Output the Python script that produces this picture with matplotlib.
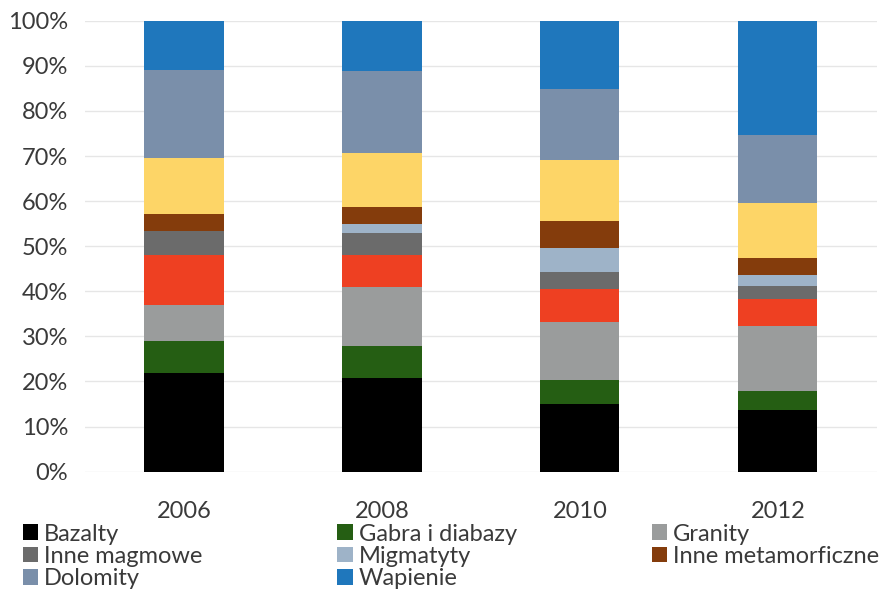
import numpy as np
from matplotlib import pyplot as plt
from matplotlib.patches import Patch

plt.rcParams['font.family'] = ['Lato', 'DejaVu Sans']

years = ['2006', '2008', '2010', '2012']

# udzialy procentowe (od dolu slupka)
bazalty = [21.8, 20.8, 15.0, 13.7]
gabra = [7.2, 7.1, 5.3, 4.3]
granity = [8.0, 13.0, 12.9, 14.2]
czerwone = [11.0, 7.1, 7.4, 6.2]
inne_magmowe = [5.3, 4.9, 3.7, 2.8]
migmatyty = [0.0, 2.0, 5.2, 2.4]
inne_metamorficzne = [3.8, 3.7, 6.2, 3.7]
zolte = [12.5, 12.1, 13.4, 12.3]
dolomity = [19.4, 18.1, 15.8, 15.1]
wapienie = [11.0, 11.2, 15.1, 25.3]

series = [
    ('Bazalty', bazalty, '#000000'),
    ('Gabra i diabazy', gabra, '#255e13'),
    ('Granity', granity, '#9a9c9c'),
    ('_czerwone', czerwone, '#ee4022'),
    ('Inne magmowe', inne_magmowe, '#6b6b6b'),
    ('Migmatyty', migmatyty, '#9eb3c8'),
    ('Inne metamorficzne', inne_metamorficzne, '#843c0c'),
    ('_zolte', zolte, '#fdd567'),
    ('Dolomity', dolomity, '#7a8faa'),
    ('Wapienie', wapienie, '#1f77bc'),
]

fs = 17
txt = '#3a3a3a'

fig = plt.figure(figsize=(8.83, 5.93), dpi=100)
ax = fig.add_axes([0.0963, 0.2046, 0.8967, 0.7604])

x = np.arange(len(years))
bottom = np.zeros(len(years))
handles = {}
for name, vals, col in series:
    v = np.array(vals)
    ax.bar(x, v / 100, 0.4, bottom=bottom / 100, color=col, zorder=2)
    handles[name] = Patch(facecolor=col)
    bottom += v

ax.set_xlim(-0.5, 3.5)
ax.set_ylim(0, 1)
ticks = np.arange(0, 1.01, 0.1)
ax.set_yticks(ticks)
ax.set_yticklabels([f'{int(round(t * 100))}%' for t in ticks])
ax.set_xticks(x)
ax.set_xticklabels(years)
ax.tick_params(axis='both', length=0, labelsize=fs, colors=txt)
ax.tick_params(axis='y', pad=12)
ax.tick_params(axis='x', pad=21)
ax.yaxis.grid(True, color='#e6e6e6', linewidth=1, zorder=0)
for s in ax.spines.values():
    s.set_visible(False)

# legenda w trzech kolumnach
cols = [['Bazalty', 'Inne magmowe', 'Dolomity'],
        ['Gabra i diabazy', 'Migmatyty', 'Wapienie'],
        ['Granity', 'Inne metamorficzne']]
xpos = [0.026, 0.382, 0.738]
for names, xp in zip(cols, xpos):
    leg = fig.legend([handles[n] for n in names], names, loc='upper left',
                     bbox_to_anchor=(xp, 0.117), frameon=False, fontsize=fs,
                     handlelength=0.65, handleheight=0.65, handletextpad=0.25,
                     labelspacing=0.05, borderaxespad=0, borderpad=0)
    for t in leg.get_texts():
        t.set_color(txt)

fig.savefig('out.png', dpi=100)
